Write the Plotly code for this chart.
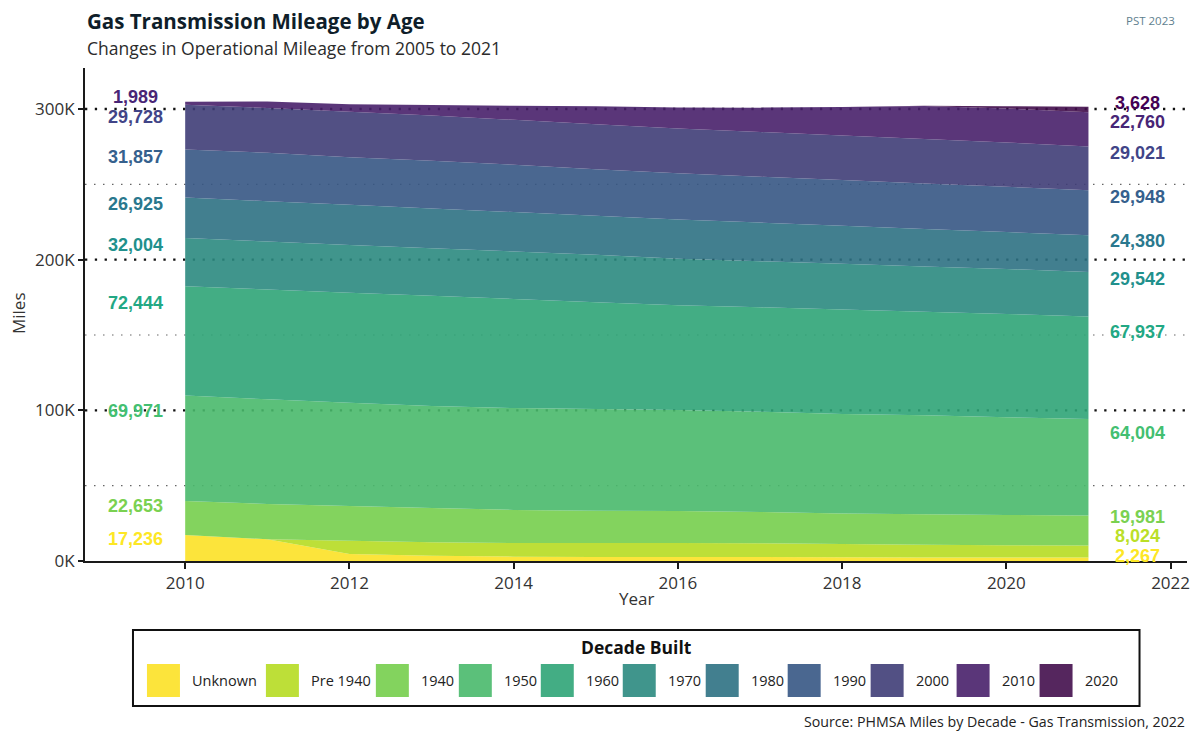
import plotly.graph_objects as go

# ---------------- data (miles) ----------------
years = [2010, 2011, 2012, 2013, 2014, 2015, 2016, 2017, 2018, 2019, 2020, 2021]
decades = ["Unknown", "Pre 1940", "1940", "1950", "1960", "1970",
           "1980", "1990", "2000", "2010", "2020"]

unknown  = [17236, 14400, 4600, 3500, 2900, 2700, 2600, 2600, 2500, 2400, 2300, 2267]
pre1940  = [0, 0, 8900, 8900, 9000, 9200, 9300, 9200, 8800, 8400, 8200, 8024]
d1940    = [22653, 23400, 23000, 22800, 22000, 21500, 21300, 20700, 20300, 20200, 20000, 19981]
d1950    = [69971, 69500, 68500, 67700, 67600, 67500, 67000, 66600, 66000, 65700, 64900, 64004]
d1960    = [72444, 72900, 73100, 73100, 72400, 70800, 69600, 69300, 69300, 68800, 68600, 67937]
d1970    = [32004, 31900, 31700, 31600, 31500, 31500, 30800, 30500, 30300, 30000, 29800, 29542]
d1980    = [26925, 26700, 26600, 26400, 26200, 26000, 26100, 25700, 25300, 24900, 24500, 24380]
d1990    = [31857, 32200, 31600, 31600, 31400, 30800, 30600, 30400, 30300, 30200, 30100, 29948]
d2000    = [29728, 29600, 30200, 30000, 29800, 29800, 29700, 29700, 29600, 29500, 29400, 29021]
d2010    = [1989, 4400, 4900, 7000, 9400, 12000, 14000, 16200, 18900, 21800, 22500, 22760]
d2020    = [0, 0, 0, 0, 0, 0, 0, 0, 0, 300, 1500, 3628]

series = [unknown, pre1940, d1940, d1950, d1960, d1970, d1980, d1990, d2000, d2010, d2020]

y_tick_vals = [0, 100000, 200000, 300000]
y_tick_text = ["0K", "100K", "200K", "300K"]
x_tick_vals = [2010, 2012, 2014, 2016, 2018, 2020, 2022]

# ---------------- style ----------------
# label (text) colours: viridis
colors = ["#FDE725", "#BBDF27", "#7AD151", "#43BF71", "#22A884", "#21908C",
          "#2A788E", "#35608D", "#414487", "#482576", "#440154"]
# colours of the translucent areas as they appear on white
area_look = ["#FCE43C", "#BDDF38", "#84D35E", "#5BC07A", "#44AD85", "#40968C",
             "#427F8F", "#4A6890", "#525085", "#5A3679", "#55265E"]
ALPHA = 0.9


def fill_rgba(h, a):
    h = h.lstrip("#")
    comps = []
    for k in (0, 2, 4):
        t = int(h[k:k + 2], 16)
        b = (t - (1 - a) * 255) / a
        comps.append(int(round(min(255, max(0, b)))))
    return "rgba(%d,%d,%d,%.2f)" % (comps[0], comps[1], comps[2], a)


# page body has an 8px margin: shrink the figure so it fits the 1200x741 window
OFF = 8
W, H = 1200 - OFF, 741 - OFF
PLOT_L, PLOT_R, PLOT_T, PLOT_B = 85, 1187.5, 68, 561   # target window pixels
ML, MR, MT, MB = PLOT_L - OFF, 1200 - PLOT_R, PLOT_T - OFF, 741 - PLOT_B
PW, PH = PLOT_R - PLOT_L, PLOT_B - PLOT_T


def px(X):
    return (X - PLOT_L) / PW


def py(Y):
    return (PLOT_B - Y) / PH


FONT = "Open Sans"
LABEL_FONT = "Liberation Sans, Arial, sans-serif"

fig = go.Figure()
for name, vals, look in zip(decades, series, area_look):
    fig.add_trace(go.Scatter(
        x=years, y=vals, name=name, mode="none", stackgroup="one",
        fillcolor=fill_rgba(look, ALPHA), line=dict(width=0), showlegend=False,
        hovertemplate=name + ": %{y:,}<extra></extra>"))

shapes = []
# grid lines (dotted), below traces
for v in [50000, 150000, 250000]:
    shapes.append(dict(type="line", xref="paper", yref="y", x0=0, x1=1, y0=v, y1=v,
                       layer="below", line=dict(color="#666666", width=1.2, dash="1.5px,7.5px")))
for v in [100000, 200000, 300000]:
    shapes.append(dict(type="line", xref="paper", yref="y", x0=0, x1=1, y0=v, y1=v,
                       layer="below", line=dict(color="#111111", width=2.3, dash="2.3px,7.5px")))


# ---------------- end labels ----------------
def repel(targets, gap, lo):
    ys = list(targets)
    n = len(ys)
    for _ in range(300):
        order = sorted(range(n), key=lambda i: ys[i])
        for a, b in zip(order, order[1:]):
            d = ys[b] - ys[a]
            if d < gap:
                s = (gap - d) / 2
                ys[a] -= s
                ys[b] += s
        ys = [max(y, lo) for y in ys]
    return ys


annotations = []
for idx, xpos in [(0, years[0] - 0.6), (len(years) - 1, years[-1] + 0.6)]:
    vals, cols, targets = [], [], []
    cum = 0
    for s, c in zip(series, colors):
        cum += s[idx]
        if s[idx] > 0:
            vals.append(s[idx])
            cols.append(c)
            targets.append(cum - 0.15 * s[idx])
    ys = repel(targets, 13000, 3500)
    for v, c, y in zip(vals, cols, ys):
        annotations.append(dict(x=xpos, y=y, xref="x", yref="y", text="<b>{:,}</b>".format(v),
                                showarrow=False, xanchor="center", yanchor="middle",
                                font=dict(family=LABEL_FONT, size=18, color=c)))

# ---------------- titles ----------------
annotations += [
    dict(x=px(85), y=py(21), xref="paper", yref="paper", xanchor="left", yanchor="middle",
         text="<b>Gas Transmission Mileage by Age</b>", showarrow=False,
         font=dict(family=FONT, size=20.5, color="#0f1e2a")),
    dict(x=px(85), y=py(48), xref="paper", yref="paper", xanchor="left", yanchor="middle",
         text="Changes in Operational Mileage from 2005 to 2021", showarrow=False,
         font=dict(family=FONT, size=17.5, color="#2b2b2b")),
    dict(x=px(1177), y=py(20), xref="paper", yref="paper", xanchor="right", yanchor="middle",
         text="PST 2023", showarrow=False, font=dict(family=FONT, size=11.5, color="#5f7f8f")),
    dict(x=px(1188), y=py(721), xref="paper", yref="paper", xanchor="right", yanchor="middle",
         text="Source: PHMSA Miles by Decade - Gas Transmission, 2022", showarrow=False,
         font=dict(family=FONT, size=14.2, color="#222222")),
    dict(x=px(637), y=py(598), xref="paper", yref="paper", xanchor="center", yanchor="middle",
         text="Year", showarrow=False, font=dict(family=FONT, size=17, color="#333333")),
    dict(x=px(18), y=py(313), xref="paper", yref="paper", xanchor="center", yanchor="middle",
         text="Miles", textangle=-90, showarrow=False,
         font=dict(family=FONT, size=17, color="#333333")),
]

# ---------------- manual legend ----------------
leg_left, leg_right, leg_top, leg_bot = 133, 1140, 630, 706
shapes.append(dict(type="rect", xref="paper", yref="paper",
                   x0=px(leg_left), x1=px(leg_right), y0=py(leg_bot), y1=py(leg_top),
                   line=dict(color="#111111", width=2), fillcolor="rgba(0,0,0,0)", layer="above"))
annotations.append(dict(x=px((leg_left + leg_right) / 2), y=py(647), xref="paper", yref="paper",
                        text="<b>Decade Built</b>", showarrow=False, xanchor="center",
                        yanchor="middle", font=dict(family=FONT, size=17.5, color="#111111")))
swatch_lefts = [147, 266, 376, 459, 541, 623, 706, 788, 871, 957, 1040]
sw = 33
for name, look, xl in zip(decades, area_look, swatch_lefts):
    shapes.append(dict(type="rect", xref="paper", yref="paper",
                       x0=px(xl), x1=px(xl + sw), y0=py(664 + sw), y1=py(664),
                       line=dict(width=0), fillcolor=fill_rgba(look, ALPHA), layer="above"))
    annotations.append(dict(x=px(xl + sw + 10), y=py(680), xref="paper", yref="paper",
                            text=name, showarrow=False, xanchor="left", yanchor="middle",
                            font=dict(family=FONT, size=14.5, color="#222222")))

fig.update_layout(
    width=W, height=H, autosize=False,
    margin=dict(l=ML, r=MR, t=MT, b=MB, autoexpand=False),
    paper_bgcolor="white", plot_bgcolor="white",
    font=dict(family=FONT, size=17, color="#333333"),
    showlegend=False,
    shapes=shapes, annotations=annotations,
    xaxis=dict(range=[2008.78, 2022.2], tickvals=x_tick_vals, showgrid=False, zeroline=False,
               automargin=False,
               showline=True, linecolor="#1a1a1a", linewidth=2, ticks="outside", ticklen=6,
               tickwidth=1.5, tickcolor="#1a1a1a", tickfont=dict(size=17, color="#333333")),
    yaxis=dict(range=[0, 327200], tickvals=y_tick_vals, ticktext=y_tick_text, showgrid=False,
               automargin=False,
               zeroline=False, showline=True, linecolor="#1a1a1a", linewidth=2, ticks="outside",
               ticklen=5, tickwidth=1.5, tickcolor="#1a1a1a",
               tickfont=dict(size=17, color="#333333")),
)

fig.write_html("out.html")
